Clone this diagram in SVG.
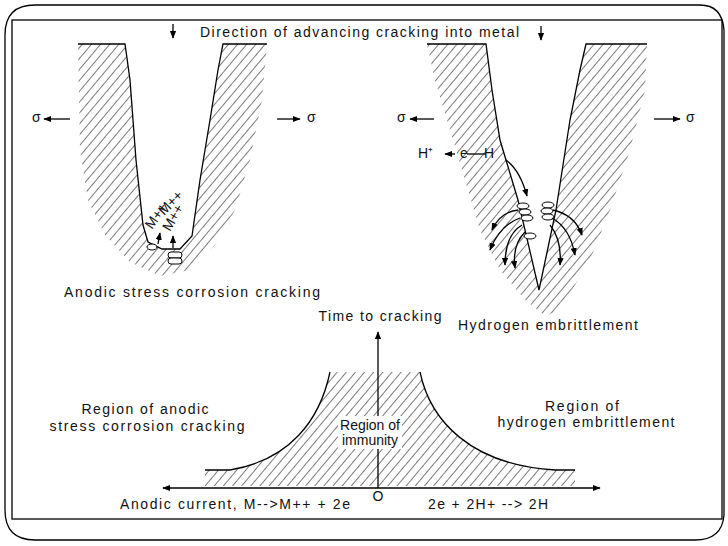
<svg xmlns="http://www.w3.org/2000/svg" width="728" height="546" viewBox="0 0 728 546">
<defs>
<pattern id="h" patternUnits="userSpaceOnUse" width="7" height="7" patternTransform="rotate(40)">
<line x1="0" y1="0" x2="0" y2="7" stroke="#222" stroke-width="1.2"/>
</pattern>
<marker id="a" viewBox="0 0 10 10" refX="9" refY="5" markerWidth="6" markerHeight="6" orient="auto-start-reverse"><path d="M0,1 L10,5 L0,9 Z" fill="#000"/></marker>
<style>
text{font-family:"Liberation Sans",Arial,sans-serif;fill:#111;font-size:14px}
.c{text-anchor:middle}
.ln{stroke:#000;stroke-width:1.3;fill:none}
.hz{fill:url(#h);stroke:none}
</style>
</defs>
<rect width="728" height="546" fill="#fff"/>
<path d="M35,5 H700 Q722,5 724,30 V515 Q722,540 695,540 H35 Q5,540 5,510 V35 Q5,5 35,5 Z" class="ln"/>
<rect x="12" y="20" width="710" height="499" class="ln" stroke-width="1"/>

<g id="top">
<text x="200" y="37" textLength="319">Direction of advancing cracking into metal</text>
<line x1="173" y1="24" x2="173" y2="38" class="ln" marker-end="url(#a)"/>
<line x1="541" y1="26" x2="541" y2="40" class="ln" marker-end="url(#a)"/>
</g>

<g id="anodic-crack">
<path class="hz" d="M78,44 L125,44 L130,80 L136,160 L143,225 L148,242 L162,249 L180,249 L192,236 L200,180 L210,120 L218,70 L223,44 L267,44 L262,100 L250,160 L235,210 L215,245 L190,270 L160,276 L130,262 L105,235 L88,200 L80,150 Z"/>
<path class="ln" d="M78,44 H125 L130,80 L136,160 L143,225 L148,242 L162,249 L180,249 L192,236 L200,180 L210,120 L218,70 L223,44 H267"/>
<ellipse cx="152" cy="247" rx="5" ry="3" fill="#fff" stroke="#000"/>
<rect x="168" y="252" width="14" height="6" rx="3" fill="#fff" stroke="#000"/>
<rect x="168" y="258" width="14" height="6" rx="3" fill="#fff" stroke="#000"/>
<line x1="158" y1="244" x2="160" y2="233" class="ln" marker-end="url(#a)"/>
<line x1="173" y1="248" x2="173" y2="236" class="ln" marker-end="url(#a)"/>
<text x="152" y="230" font-size="8" transform="rotate(-55 152 230)">M++</text>
<text x="164" y="216" font-size="8" transform="rotate(-45 164 216)">M++</text>
<text x="170" y="232" font-size="8" transform="rotate(-60 170 232)">M++</text>
<text x="32" y="122">σ</text>
<line x1="70" y1="119" x2="44" y2="119" class="ln" marker-end="url(#a)"/>
<line x1="277" y1="119" x2="300" y2="119" class="ln" marker-end="url(#a)"/>
<text x="307" y="122">σ</text>
<text x="64" y="297" textLength="256">Anodic stress corrosion cracking</text>
</g>

<g id="hydrogen-crack">
<path class="hz" d="M427,44 L486,44 L492,90 L500,140 L506,160 L518,200 L539,290 L556,210 L570,120 L580,70 L586,44 L647,44 L645,90 L630,150 L610,210 L590,260 L560,310 L545,316 L525,300 L500,270 L480,230 L465,180 L450,130 L435,80 Z"/>
<path class="ln" d="M427,44 H486 L492,90 L500,140 L506,160 L518,200 L539,290 L556,210 L570,120 L580,70 L586,44 H647"/>
<path class="ln" d="M506,160 Q520,170 527,196" marker-end="url(#a)"/>
<g fill="#fff" stroke="#000">
<ellipse cx="523" cy="206" rx="6" ry="3"/><ellipse cx="525" cy="212" rx="6" ry="3"/><ellipse cx="527" cy="218" rx="6" ry="3"/><ellipse cx="530" cy="236" rx="6" ry="3"/>
<ellipse cx="548" cy="205" rx="6" ry="3"/><ellipse cx="547" cy="211" rx="6" ry="3"/><ellipse cx="548" cy="217" rx="6" ry="3"/>
</g>
<path class="ln" d="M518,210 Q500,212 492,230" marker-end="url(#a)"/>
<path class="ln" d="M520,218 Q500,225 490,250" marker-end="url(#a)"/>
<path class="ln" d="M522,225 Q505,235 505,265" marker-end="url(#a)"/>
<path class="ln" d="M525,232 Q512,245 515,268" marker-end="url(#a)"/>
<path class="ln" d="M553,210 Q575,215 582,235" marker-end="url(#a)"/>
<path class="ln" d="M552,218 Q570,228 575,255" marker-end="url(#a)"/>
<path class="ln" d="M550,225 Q562,240 560,265" marker-end="url(#a)"/>
<text x="418" y="158" font-size="9">H⁺</text>
<line x1="455" y1="154" x2="445" y2="154" class="ln" stroke-width="1" marker-end="url(#a)"/>
<text x="460" y="158" font-size="8">e</text>
<line x1="467" y1="154" x2="486" y2="154" class="ln" stroke-width="1"/>
<text x="484" y="158" font-size="9">H</text>
<text x="397" y="122">σ</text>
<line x1="434" y1="119" x2="410" y2="119" class="ln" marker-end="url(#a)"/>
<line x1="654" y1="119" x2="680" y2="119" class="ln" marker-end="url(#a)"/>
<text x="686" y="122">σ</text>
<text x="458" y="330" textLength="180">Hydrogen embrittlement</text>
</g>

<g id="graph">
<path class="hz" d="M205,470 L230,470 C290,460 320,420 330,372 L420,372 C430,420 470,465 555,470 L575,470 L575,486 L205,486 Z"/>
<path class="ln" d="M205,470 L230,470 C290,460 320,420 330,372"/>
<path class="ln" d="M420,372 C430,420 470,465 555,470 L575,470"/>
<line x1="163" y1="488" x2="600" y2="488" class="ln" marker-start="url(#a)" marker-end="url(#a)"/>
<line x1="378" y1="488" x2="378" y2="332" class="ln" stroke-width="1.6" marker-end="url(#a)"/>
<rect x="338" y="416" width="64" height="33" fill="#fff"/>
<text x="370" y="430" class="c" font-size="12">Region of</text>
<text x="370" y="445" class="c" font-size="12">immunity</text>
<text x="380" y="321" class="c" textLength="123">Time to cracking</text>
<text x="145" y="414" class="c" textLength="127">Region of anodic</text>
<text x="147" y="431" class="c" textLength="195">stress corrosion cracking</text>
<text x="582" y="411" class="c" textLength="74">Region of</text>
<text x="586" y="427" class="c" textLength="177">hydrogen embrittlement</text>
<text x="378" y="501" class="c" font-size="11">O</text>
<text x="120" y="509" textLength="230">Anodic current, M--&gt;M++ + 2e</text>
<text x="428" y="509" textLength="120">2e + 2H+ --&gt; 2H</text>
</g>
</svg>
